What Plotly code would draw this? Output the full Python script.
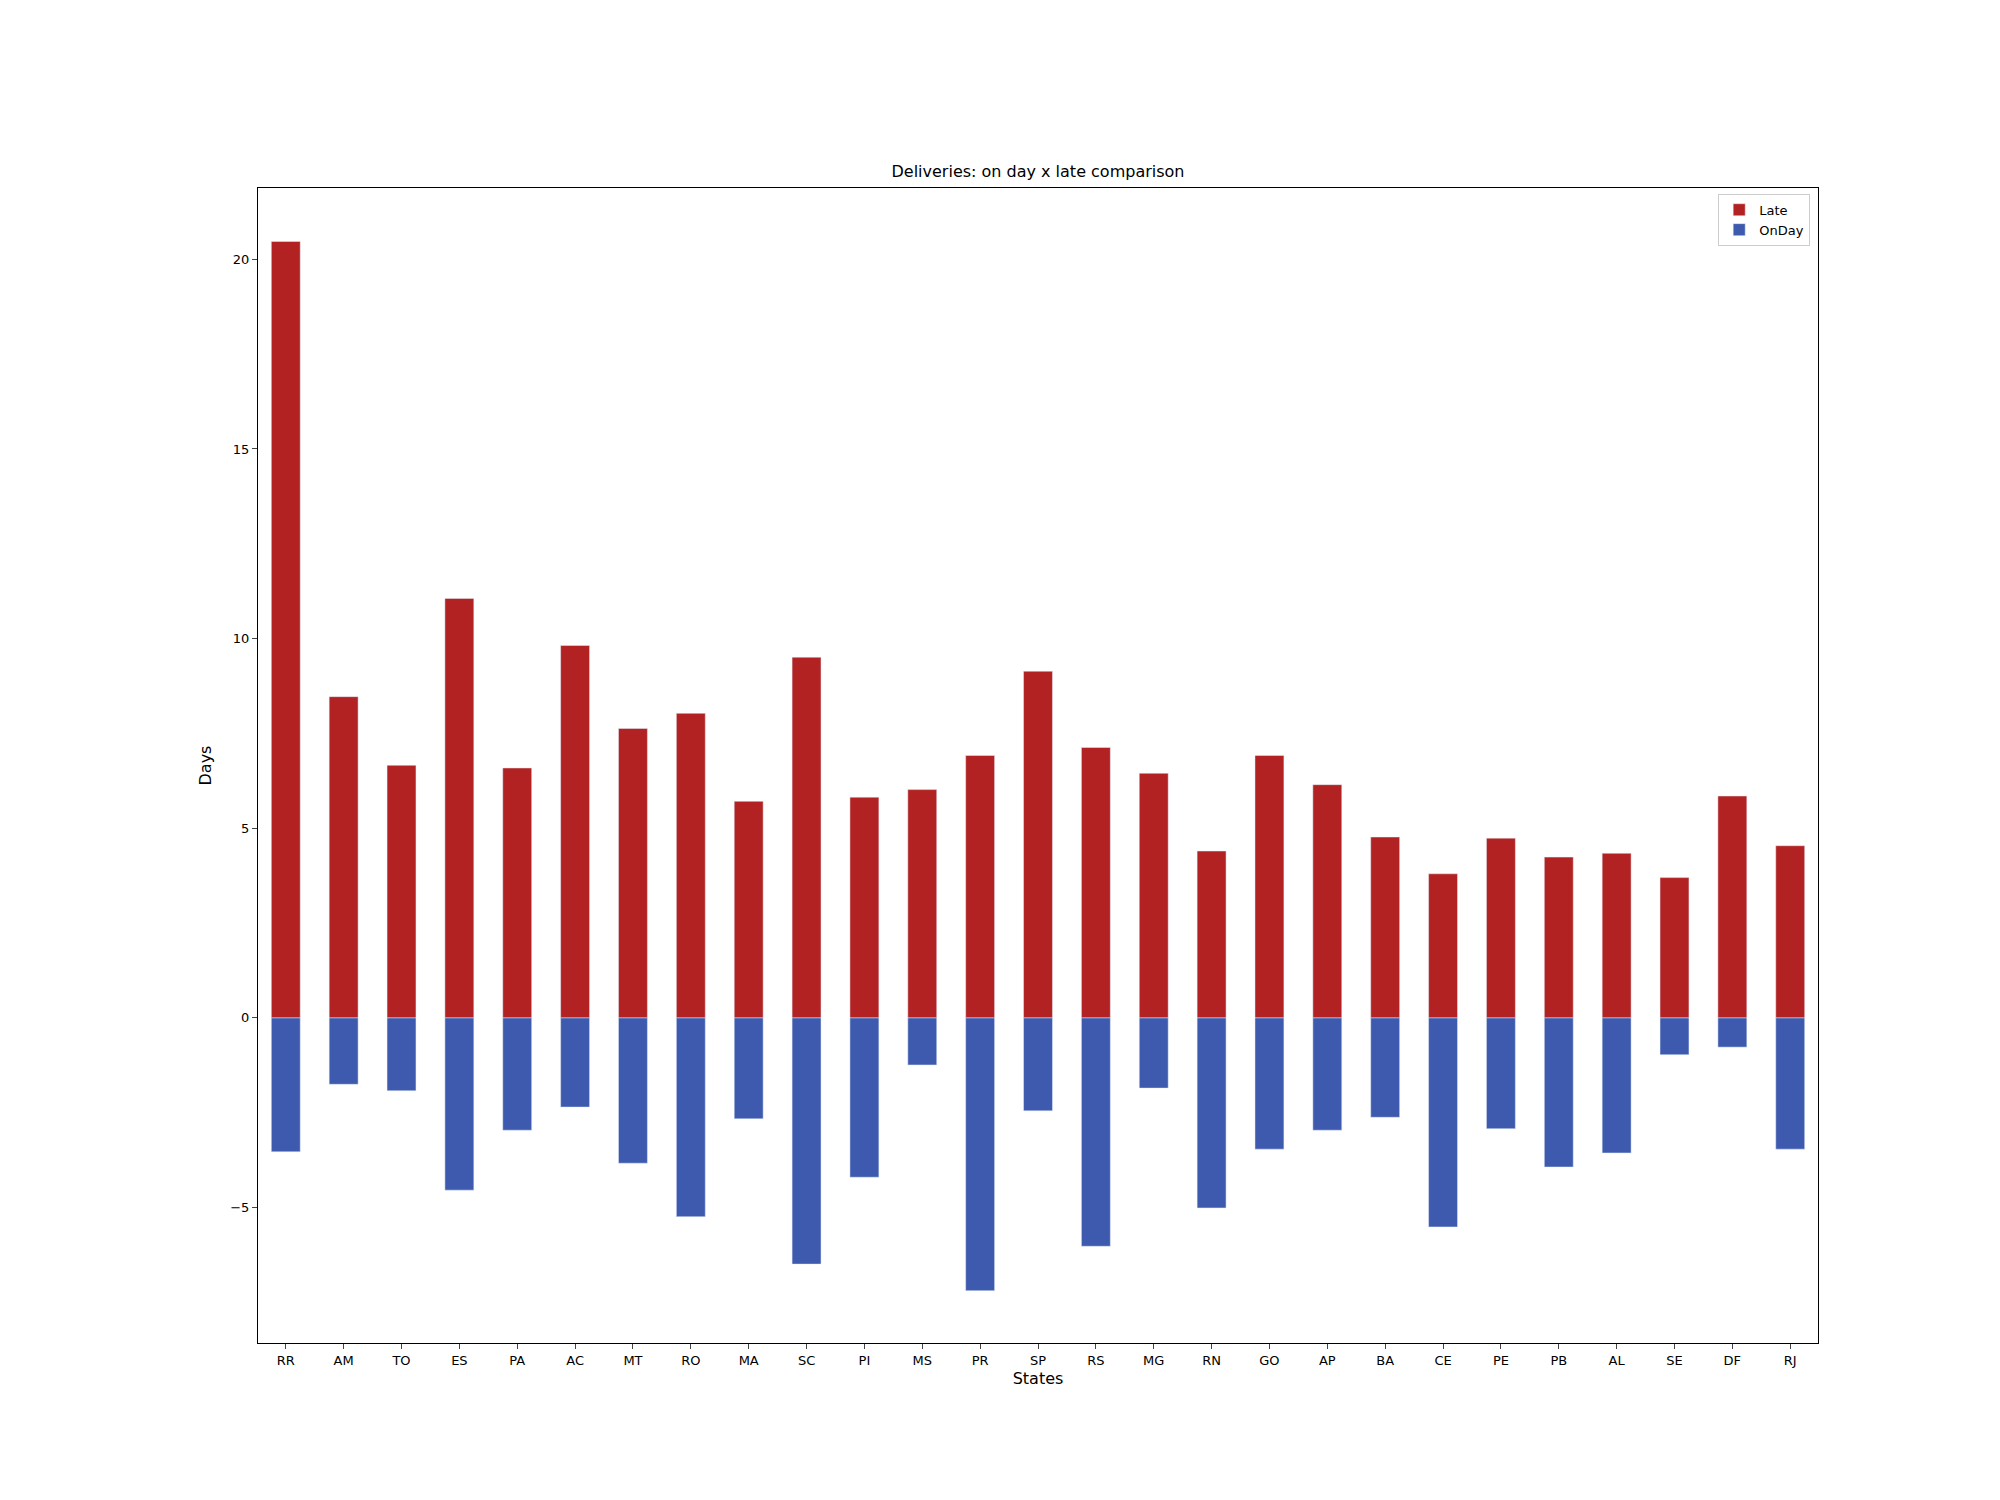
import plotly.graph_objects as go

states = ['RR', 'AM', 'TO', 'ES', 'PA', 'AC', 'MT', 'RO', 'MA', 'SC', 'PI', 'MS', 'PR', 'SP',
          'RS', 'MG', 'RN', 'GO', 'AP', 'BA', 'CE', 'PE', 'PB', 'AL', 'SE', 'DF', 'RJ']
late = [20.47, 8.47, 6.66, 11.06, 6.59, 9.82, 7.63, 8.03, 5.71, 9.51, 5.82, 6.02, 6.92, 9.14,
        7.13, 6.45, 4.40, 6.92, 6.15, 4.77, 3.80, 4.74, 4.24, 4.34, 3.70, 5.85, 4.54]
onday = [-3.53, -1.75, -1.92, -4.54, -2.96, -2.35, -3.83, -5.24, -2.66, -6.49, -4.20, -1.24, -7.19, -2.45,
         -6.02, -1.85, -5.01, -3.46, -2.96, -2.62, -5.51, -2.92, -3.93, -3.56, -0.97, -0.77, -3.46]

x = list(range(len(states)))
fig = go.Figure()
fig.add_trace(go.Bar(x=x, y=late, name='Late', marker_color='#b22222', width=0.5))
fig.add_trace(go.Bar(x=x, y=onday, name='OnDay', marker_color='#3d5aae', width=0.5))

axis = dict(showline=True, linecolor='black', mirror=True, ticks='outside', ticklen=5,
            showgrid=False, zeroline=False, tickfont=dict(size=13, color='black'))
fig.update_layout(
    barmode='relative',
    width=2000, height=1500,
    margin=dict(l=250, r=190, t=180, b=165),
    paper_bgcolor='white', plot_bgcolor='white',
    font=dict(family='DejaVu Sans', size=13, color='black'),
    title=dict(text='Deliveries: on day x late comparison', x=0.515, y=0.895, xanchor='center',
               font=dict(size=16)),
    xaxis=dict(axis, tickvals=x, ticktext=states, range=[-0.48, 26.48],
               title=dict(text='States', standoff=6)),
    yaxis=dict(axis, range=[-8.57, 21.88], tickvals=[-5, 0, 5, 10, 15, 20],
               title=dict(text='Days', standoff=14)),
    legend=dict(x=0.995, y=0.995, xanchor='right', yanchor='top', bordercolor='#cccccc',
                borderwidth=1, font=dict(size=13)),
)
fig.write_html("out.html")
